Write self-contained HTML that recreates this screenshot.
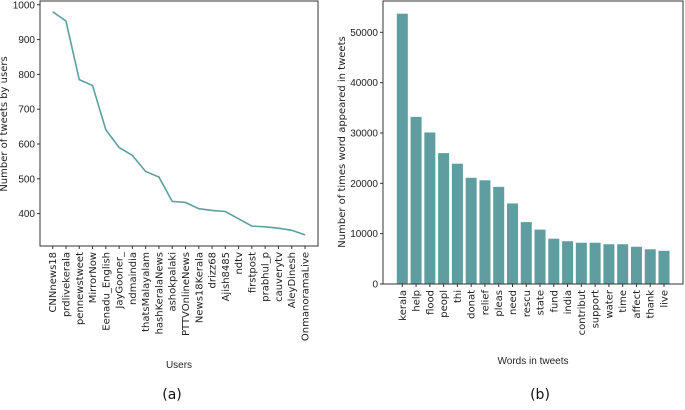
<!DOCTYPE html>
<html><head><meta charset="utf-8"><style>
body{margin:0;background:#fff;width:685px;height:405px;overflow:hidden}
svg{font-family:"DejaVu Sans","Liberation Sans",sans-serif}
.tk{font-family:"Liberation Sans",sans-serif;font-size:10px;fill:#222}
.xl{font-size:10px;fill:#222}
</style></head><body>
<svg id="c" width="685" height="405"></svg>
<script>
const users=["CNNnews18","prdlivekerala","pennewstweet","MirrorNow","Eenadu_English","JayGooner_","ndmaindia","thatsMalayalam","hashKeralaNews","ashokpalaki","PTTVOnlineNews","News18Kerala","drizz68","Ajish8485","ndtv","firstpost","prabhul_p","cauverytv","AleyDinesh","OnmanoramaLive"];
const userCounts=[980,953,785,768,641,590,567,521,505,435,432,414,409,406,385,364,362,358,352,339];
const userTicks=[400,500,600,700,800,900,1000];
const words=["kerala","help","flood","peopl","thi","donat","relief","pleas","need","rescu","state","fund","india","contribut","support","water","time","affect","thank","live"];
const wordCounts=[53700,33200,30100,26000,23900,21100,20600,19300,16000,12300,10800,9000,8500,8200,8200,7900,7900,7400,6900,6600];
const wordTicks=[0,10000,20000,30000,40000,50000];

const NS="http://www.w3.org/2000/svg",svg=document.getElementById('c');
function mk(t,a,txt,p){const e=document.createElementNS(NS,t);for(const k in a)e.setAttribute(k,a[k]);if(txt!=null)e.textContent=txt;(p||svg).appendChild(e);return e;}
const col="#5f9ea0";
// Left chart
const L={x0:40,x1:318,y0:1,y1:246};
const ly=v=>213.6-(v-400)*0.348;
const lx=i=>52.7+i*(305-52.7)/(users.length-1);
let e=mk('rect',{x:L.x0,y:L.y0,width:L.x1-L.x0,height:L.y1-L.y0,fill:'none',stroke:'#333','stroke-width':1});

userTicks.forEach(v=>{
 e=mk('line',{x1:L.x0-3,x2:L.x0,y1:ly(v),y2:ly(v),stroke:'#333'});
 
 e=mk('text',{x:L.x0-5,y:ly(v)+3.5,'text-anchor':'end',class:'tk'},v);
 
});
users.forEach((u,i)=>{
 e=mk('line',{x1:lx(i),x2:lx(i),y1:L.y1,y2:L.y1+3,stroke:'#333'});
 
 e=mk('text',{transform:`translate(${lx(i)+3.5},${L.y1+6}) rotate(-90)`,'text-anchor':'end',class:'xl'},u);
 
});
e=mk('polyline',{points:userCounts.map((v,i)=>lx(i)+','+ly(v)).join(' '),fill:'none',stroke:col,'stroke-width':1.6});

e=mk('text',{transform:'translate(7,124) rotate(-90)','text-anchor':'middle',class:'xl'},'Number of tweets by users');

e=mk('text',{x:179,y:368,'text-anchor':'middle',class:'tk'},'Users');

e=mk('text',{x:172,y:399,'text-anchor':'middle',style:'font-size:14px;fill:#111'},'(a)');

// Right chart
const R={x0:383,x1:683,y0:1,y1:284};
const ry=v=>284-v*0.005034;
const rx=i=>402.3+i*(664-402.3)/(words.length-1);
wordCounts.forEach((v,i)=>{
 e=mk('rect',{x:rx(i)-5.5,y:ry(v),width:11,height:284-ry(v),fill:col});
 
});
e=mk('rect',{x:R.x0,y:R.y0,width:R.x1-R.x0,height:R.y1-R.y0,fill:'none',stroke:'#333'});

wordTicks.forEach(v=>{
 e=mk('line',{x1:R.x0-3,x2:R.x0,y1:ry(v),y2:ry(v),stroke:'#333'});
 
 e=mk('text',{x:R.x0-5,y:ry(v)+3.5,'text-anchor':'end',class:'tk'},v);
 
});
words.forEach((w,i)=>{
 e=mk('line',{x1:rx(i),x2:rx(i),y1:R.y1,y2:R.y1+3,stroke:'#333'});
 
 e=mk('text',{transform:`translate(${rx(i)+3.5},${R.y1+6}) rotate(-90)`,'text-anchor':'end',class:'xl'},w);
 
});
e=mk('text',{transform:'translate(345,142) rotate(-90)','text-anchor':'middle',class:'xl'},'Number of times word appeared in tweets');

e=mk('text',{x:533,y:364,'text-anchor':'middle',class:'tk'},'Words in tweets');

e=mk('text',{x:540,y:399,'text-anchor':'middle',style:'font-size:14px;fill:#111'},'(b)');

</script>
</body></html>
